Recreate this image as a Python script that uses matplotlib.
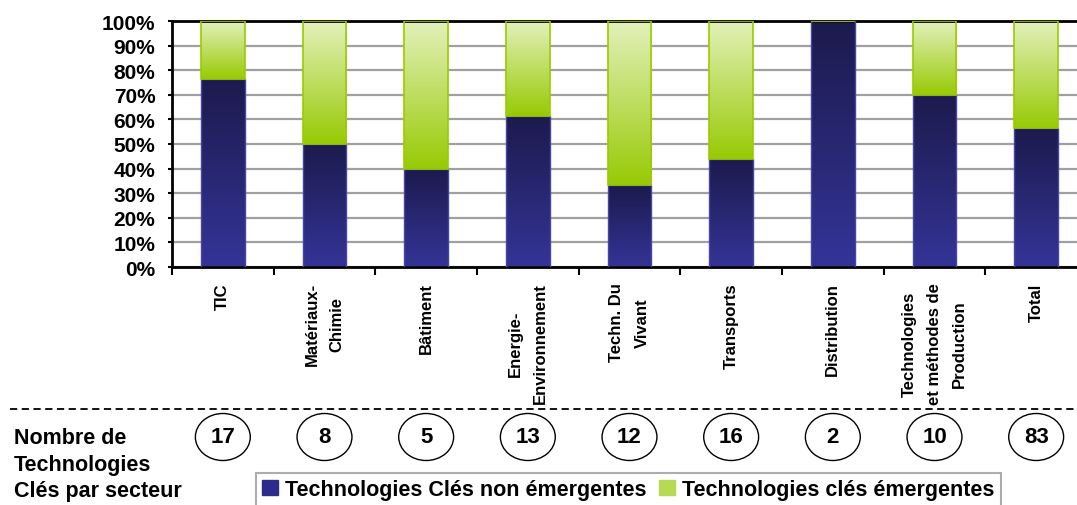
import numpy as np
import matplotlib
matplotlib.use("Agg")
import matplotlib.pyplot as plt
from matplotlib.colors import LinearSegmentedColormap
from matplotlib.patches import Ellipse, Patch
from matplotlib.lines import Line2D
from matplotlib.transforms import blended_transform_factory

plt.rcParams['font.family'] = ['Liberation Sans', 'DejaVu Sans']
plt.rcParams['font.weight'] = 'bold'

# Data
secteurs = ["TIC", "Matériaux-\nChimie", "Bâtiment", "Energie-\nEnvironnement",
            "Techn. Du\nVivant", "Transports", "Distribution",
            "Technologies\net méthodes de\nProduction", "Total"]
nb_total = [17, 8, 5, 13, 12, 16, 2, 10, 83]
nb_non_emergentes = [13, 4, 2, 8, 4, 7, 2, 7, 47]

part_non = np.array(nb_non_emergentes) / np.array(nb_total)
part_emerg = 1 - part_non

W, H = 1077, 506
fig = plt.figure(figsize=(W / 100, H / 100), dpi=100)
ax = fig.add_axes([172 / W, 1 - 268 / H, 915 / W, 246 / H])

x = np.arange(len(secteurs))
bw = 0.43


def gradient_fill(patch, c_top, c_bottom):
    x0, y0 = patch.get_x(), patch.get_y()
    w, h = patch.get_width(), patch.get_height()
    if h <= 0:
        return
    cmap = LinearSegmentedColormap.from_list("g", [c_bottom, c_top])
    grad = np.linspace(0, 1, 256).reshape(-1, 1)
    ax.imshow(grad, extent=(x0, x0 + w, y0, y0 + h), origin="lower",
              cmap=cmap, aspect="auto", zorder=2.5, interpolation="bilinear")


bars_non = ax.bar(x, part_non, bw, facecolor="none", edgecolor="#4646a6",
                  linewidth=1.0, zorder=3)
bars_em = ax.bar(x, part_emerg, bw, bottom=part_non, facecolor="none",
                 edgecolor="#99cc00", linewidth=1.2, zorder=3)

for p in bars_non:
    gradient_fill(p, "#1c1a4c", "#343498")
for p in bars_em:
    gradient_fill(p, "#e3f1bb", "#98ca04")

ax.set_xlim(-0.5, len(secteurs) - 0.5)
ax.set_ylim(0, 1)

# grid and spines
ax.set_axisbelow(True)
ax.yaxis.grid(True, color="#a0a0a0", linewidth=1.6)
for s in ["left", "bottom", "top"]:
    ax.spines[s].set_linewidth(2)
    ax.spines[s].set_color("black")
ax.spines["right"].set_visible(False)

ax.set_yticks(np.arange(0, 1.01, 0.1))
ax.set_yticklabels([f"{int(round(v * 100))}%" for v in np.arange(0, 1.01, 0.1)],
                   fontsize=15, fontweight="bold")
ax.tick_params(axis="y", length=3, width=1.5, pad=9)

ax.set_xticks(x)
ax.set_xticklabels(secteurs, rotation=90, fontsize=12, fontweight="bold",
                   va="top", ha="center", multialignment="center", linespacing=1.85)
ax.tick_params(axis="x", which="major", length=0, pad=11)
ax.set_xticks(np.arange(-0.5, len(secteurs), 1), minor=True)
ax.tick_params(axis="x", which="minor", length=6, width=1.5, direction="out")

# dashed separator
fig.add_artist(Line2D([10 / W, 1], [1 - 410 / H, 1 - 410 / H], transform=fig.transFigure,
                      color="black", linewidth=1.3, linestyle=(0, (4, 2.5))))

# counts in ellipses
trans = blended_transform_factory(ax.transData, fig.transFigure)
yc = 1 - 438 / H
for xi, n in zip(x, nb_total):
    e = Ellipse((xi, yc), 0.54, 47 / H, transform=trans, facecolor="white",
                edgecolor="black", linewidth=1.0, clip_on=False)
    ax.add_patch(e)
    ax.text(xi, yc, str(n), transform=trans, ha="center", va="center",
            fontsize=16, fontweight="bold", clip_on=False)

fig.text(14 / W, 1 - 428 / H, "Nombre de\nTechnologies\nClés par secteur",
         ha="left", va="top", fontsize=15.5, fontweight="bold", linespacing=1.35)

# legend
handles = [Patch(facecolor="#2e2c8a", edgecolor="#2e2c8a"),
           Patch(facecolor="#b6db52", edgecolor="#b6db52")]
leg = fig.legend(handles, ["Technologies Clés non émergentes", "Technologies clés émergentes"],
                 loc="upper left", bbox_to_anchor=(256 / W, 1 - 474 / H), ncol=2,
                 prop={"size": 15.5, "weight": "bold"}, frameon=True, fancybox=False,
                 handlelength=0.7, handleheight=0.7, handletextpad=0.35,
                 columnspacing=0.6, borderpad=0.3, borderaxespad=0)
leg.get_frame().set_edgecolor("#999999")
leg.get_frame().set_linewidth(1.5)

fig.savefig("out.png", dpi=100)
